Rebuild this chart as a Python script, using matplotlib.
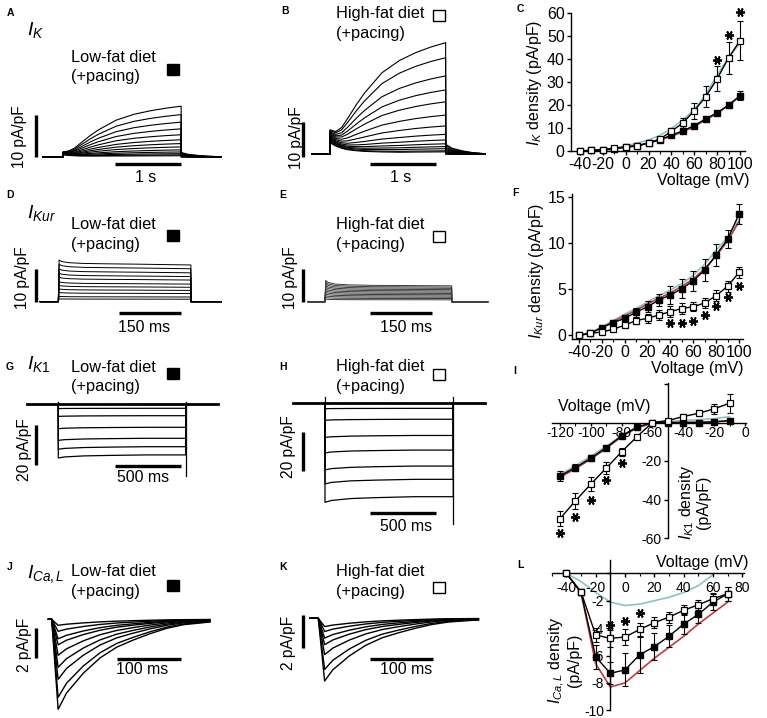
import matplotlib
matplotlib.use('Agg')
import matplotlib.pyplot as plt
from matplotlib.patches import Rectangle
from matplotlib.ticker import MultipleLocator

plt.rcParams['font.family'] = ['Liberation Sans', 'DejaVu Sans']
plt.rcParams['mathtext.fontset'] = 'custom'
plt.rcParams['mathtext.rm'] = 'Liberation Sans'
plt.rcParams['mathtext.it'] = 'Liberation Sans:italic'
plt.rcParams['mathtext.bf'] = 'Liberation Sans:bold'
plt.rcParams['axes.unicode_minus'] = False

W, H = 767, 718
CYAN = '#86c4ca'
RED = '#c23b3b'

# ---------------- current traces (pA/pF) ----------------
# I_K: amplitude at end of step, instantaneous jump at onset
ik_frac = [0, 0.05, 0.1, 0.15, 0.23, 0.3, 0.45, 0.6, 0.74, 0.87, 1.0]
ik_shape = [0, 0.05, 0.13, 0.24, 0.4, 0.52, 0.72, 0.84, 0.91, 0.96, 1.0]
ik_fade = [1, 0.7, 0.5, 0.35, 0.22, 0.14, 0.05, 0, 0, 0, 0]
ik_tail_t = [0, 0.1, 0.25, 0.4, 0.6]
ik_tail = [1.0, 0.6, 0.35, 0.18, 0.06]
ik_tail_ratio = 0.09
A_amp = [12.1, 10.1, 8.3, 6.7, 5.3, 4.1, 3.2, 2.4, 1.7, 1.2, 0.8, 0.5, 0.3]
A_onset = [1.2, 1.2, 1.1, 1.1, 1.0, 1.0, 0.9, 0.9, 0.8, 0.8, 0.7, 0.6, 0.5]
B_amp = [31.9, 27.6, 22.4, 18.4, 15.0, 11.2, 8.1, 5.7, 4.1, 3.0, 2.2, 1.6, 1.0, 0.7]
B_onset = [7.0, 6.8, 6.5, 6.2, 6.0, 5.7, 5.4, 5.1, 4.8, 4.5, 4.2, 3.9, 3.6, 3.3]

# I_Kur
kur_frac = [0, 0.006, 0.025, 0.08, 0.19, 0.37, 0.62, 0.81, 1.0]
D_shape = [0, 1.09, 1.05, 1.02, 1.0, 0.99, 0.98, 0.97, 0.96]
E_shape = [0, 1.3, 1.18, 1.08, 1.03, 1.0, 0.99, 0.98, 0.97]
D_amp = [11.7, 10.5, 9.2, 8.0, 6.9, 5.6, 4.6, 3.6, 2.6, 1.5, 0.8]
E_amp = [5.0, 4.6, 4.2, 3.8, 3.4, 3.0, 2.6, 2.2, 1.8, 1.4, 1.0, 0.6]

# I_K1
k1_frac = [0, 0.05, 0.2, 0.4, 0.7, 1.0]
k1_shape = [1.06, 1.04, 1.02, 1.01, 1.0, 1.0]
G_amp = [-2.0, -5.7, -11.5, -17.0, -21.2, -25.3]
H_amp = [-2.9, -8.5, -16.8, -24.3, -32.5, -39.3, -48.2]

# I_Ca,L (time in ms from step onset)
ica_t = [0, 10, 23, 49, 75, 101, 127, 153, 179, 205, 246]
ica_shape = [0, 1.0, 0.82, 0.6, 0.43, 0.31, 0.23, 0.16, 0.10, 0.06, 0.03]
J_amp = [-6.0, -5.2, -4.0, -3.2, -2.4, -1.7, -1.3, -0.8, -0.4]
K_amp = [-3.8, -3.1, -2.2, -1.6, -1.2, -0.8, -0.5]

# ---------------- I-V data ----------------
V_ik = [-40, -30, -20, -10, 0, 10, 20, 30, 40, 50, 60, 70, 80, 90, 100]
ik_lf = [0, 0.3, 0.5, 1.0, 1.8, 2.2, 3.5, 5.0, 6.8, 8.8, 11.0, 14.0, 16.6, 20.0, 24.0]
ik_lf_err = [0.2, 0.2, 0.3, 0.3, 0.4, 0.4, 0.5, 0.6, 0.8, 1.0, 1.0, 1.0, 1.0, 1.2, 2.0]
ik_hf = [0, 0.3, 0.6, 1.2, 1.8, 2.3, 3.5, 5.2, 8.6, 12.2, 17.5, 23.6, 31.4, 40.5, 48.0]
ik_hf_err = [0.2, 0.2, 0.3, 0.4, 0.5, 0.5, 0.6, 0.8, 1.5, 2.0, 3.5, 4.5, 5.5, 7.0, 8.5]
ik_cyan = [0, 0.2, 0.6, 1.2, 2.2, 3.4, 4.8, 6.8, 9.8, 13.5, 18.0, 24.5, 33.0, 40.5, 47.0]
ik_red = [0, 0.2, 0.4, 0.9, 1.6, 2.2, 3.4, 4.9, 6.4, 8.4, 10.6, 13.6, 16.4, 19.8, 23.8]
ik_star_v = [80, 90, 100]
ik_star_y = [39.5, 50.5, 60.5]

kur_lf = [0, 0.2, 0.83, 1.37, 1.84, 2.5, 3.1, 3.82, 4.36, 5.05, 5.9, 7.07, 8.7, 10.4, 13.1]
kur_lf_err = [0.1, 0.1, 0.2, 0.3, 0.4, 0.5, 0.6, 0.7, 1.0, 1.0, 1.1, 1.2, 1.2, 1.0, 1.1]
kur_hf = [0, 0.2, 0.36, 0.65, 1.1, 1.6, 1.84, 2.2, 2.56, 2.9, 3.1, 3.5, 4.3, 5.3, 6.8]
kur_hf_err = [0.1, 0.1, 0.2, 0.2, 0.3, 0.4, 0.5, 0.5, 0.6, 0.6, 0.5, 0.5, 0.6, 0.6, 0.6]
kur_cyan = [0, 0.3, 0.9, 1.6, 2.3, 2.9, 3.6, 4.3, 4.9, 5.6, 6.5, 7.7, 9.2, 10.6, 12.5]
kur_red = [0, 0.25, 0.85, 1.5, 2.1, 2.7, 3.4, 4.0, 4.6, 5.3, 6.1, 7.2, 8.6, 10.2, 12.3]
kur_star_v = [40, 50, 60, 70, 80, 90, 100]
kur_star_y = [1.3, 1.3, 1.6, 2.2, 3.2, 4.1, 5.3]

V_k1 = [-120, -110, -100, -90, -80, -70, -60, -50, -40, -30, -20, -10]
k1_lf = [-27.7, -23.4, -18.5, -13.0, -6.9, -2.4, 0, 0, 0, 0, 0.3, 1.0]
k1_lf_err = [2.5, 2.0, 1.5, 1.0, 0.8, 0.5, 0.3, 0.3, 0.3, 0.3, 0.3, 0.5]
k1_hf = [-50.0, -40.7, -32.0, -23.7, -15.2, -7.3, 0, 1.0, 3.1, 4.8, 7.1, 10.0]
k1_hf_err = [4.0, 4.0, 3.8, 3.2, 2.0, 1.0, 0.5, 0.5, 1.2, 1.5, 2.5, 5.0]
k1_cyan = [-27.0, -22.5, -17.5, -12.3, -6.8, -2.4, -0.4, 0.5, 1.0, 1.5, 2.0, 3.0]
k1_red = [-28.5, -24.0, -19.0, -13.5, -7.3, -2.8, -0.3, 0, 0, 0.2, 0.5, 0.8]
k1_star_v = [-120, -110, -100, -90, -80]
k1_star_y = [-57.5, -49, -40, -30, -21]

V_ca = [-40, -30, -20, -10, 0, 10, 20, 30, 40, 50, 60, 70]
ca_lf = [0, -1.4, -6.1, -7.3, -7.05, -5.95, -5.35, -4.6, -3.7, -3.0, -2.1, -1.5]
ca_lf_err = [0, 0.2, 0.9, 0.8, 1.2, 1.3, 1.0, 0.8, 0.7, 0.6, 0.6, 0.5]
ca_hf = [0, -1.35, -4.5, -4.75, -4.65, -4.1, -3.6, -3.2, -2.7, -2.3, -1.85, -1.5]
ca_hf_err = [0, 0.2, 0.5, 0.6, 0.6, 0.5, 0.4, 0.4, 0.35, 0.35, 0.4, 0.5]
V_ca_cyan = [-40, -30, -20, -10, 0, 10, 20, 30, 40, 50, 60]
ca_cyan = [0, -0.6, -1.4, -2.1, -2.35, -2.25, -2.0, -1.75, -1.4, -0.9, -0.1]
ca_red = [0, -1.4, -6.6, -8.3, -8.0, -7.1, -6.2, -5.4, -4.6, -3.7, -2.9, -2.1]
ca_star_v = [-10, 0, 10]
ca_star_y = [-3.8, -3.5, -2.9]

fig = plt.figure(figsize=(W / 100, H / 100), dpi=100)


def px_axes(x0, y0, sx, sy, xlim, ylim):
    # x0, y0: pixel of data origin; sx, sy: pixels per data unit
    left = x0 + xlim[0] * sx
    right = x0 + xlim[1] * sx
    top = y0 - ylim[1] * sy
    bottom = y0 - ylim[0] * sy
    ax = fig.add_axes([left / W, 1 - bottom / H, (right - left) / W, (bottom - top) / H])
    ax.set_xlim(xlim)
    ax.set_ylim(ylim)
    return ax


def trace_ax(x0, y0, sx, sy, xlim, ylim):
    ax = px_axes(x0, y0, sx, sy, xlim, ylim)
    ax.axis('off')
    return ax


def scale_bars(ax, vx, vy0, vlen, hx0, hlen, hy):
    ax.plot([vx, vx], [vy0, vy0 + vlen], 'k', lw=2.4, solid_capstyle='butt', clip_on=False)
    ax.plot([hx0, hx0 + hlen], [hy, hy], 'k', lw=2.4, solid_capstyle='butt', clip_on=False)


def draw_ik(ax, amps, onsets, step, t_pre):
    for a, o in zip(amps, onsets):
        t = [t_pre, 0] + [f * step for f in ik_frac] + [step + s for s in ik_tail_t]
        y = ([0, 0] + [a * s + o * d for s, d in zip(ik_shape, ik_fade)]
             + [a * ik_tail_ratio * v for v in ik_tail])
        ax.plot(t, y, color='k', lw=0.8, clip_on=False)


def draw_kur(ax, amps, shape, step, t_pre, t_post, color):
    for a in amps:
        t = [t_pre, 0] + [f * step for f in kur_frac] + [step, t_post]
        y = [0, 0] + [a * s for s in shape] + [0, 0]
        ax.plot(t, y, color=color, lw=0.7, clip_on=False)


def draw_k1(ax, amps, step, t_pre, t_post, spike_top, spike_end):
    ax.plot([t_pre, t_post], [0, 0], 'k', lw=2.0, clip_on=False)
    for a in amps:
        t = [0] + [f * step for f in k1_frac] + [step]
        y = [0] + [a * s for s in k1_shape] + [0]
        ax.plot(t, y, 'k', lw=0.9, clip_on=False)
    ax.plot([0, 0], [0, spike_top], 'k', lw=0.9, clip_on=False)
    ax.plot([step, step], [spike_top, spike_end], 'k', lw=0.9, clip_on=False)


def draw_ica(ax, amps, t_pre, t_post):
    for a in amps:
        t = [t_pre] + ica_t + [t_post]
        y = [0] + [a * s for s in ica_shape] + [a * ica_shape[-1]]
        ax.plot(t, y, 'k', lw=1.0, clip_on=False)


# A
ax = trace_ax(63, 157, 66, 4.2, (-0.6, 2.5), (-5, 15))
draw_ik(ax, A_amp, A_onset, 1.79, -0.3)
scale_bars(ax, -0.41, 0, 10, 0.79, 1.0, -1.67)
# B
ax = trace_ax(330, 154.3, 65.7, 3.5, (-0.6, 2.5), (-5, 35))
draw_ik(ax, B_amp, B_onset, 1.76, -0.28)
scale_bars(ax, -0.41, -0.7, 10, 0.61, 1.0, -2.8)
# D
ax = trace_ax(58.3, 301.7, 0.413, 3.27, (-60, 400), (-5, 14))
draw_kur(ax, D_amp, D_shape, 321, -44, 395, 'k')
scale_bars(ax, -54, 0, 10, 147, 150, -3.5)
# E
ax = trace_ax(325, 301.7, 0.4153, 3.27, (-60, 400), (-5, 14))
draw_kur(ax, E_amp, E_shape, 305, -41, 392, '#3a3a3a')
scale_bars(ax, -52, 0, 10, 108, 150, -3.5)
# G
ax = trace_ax(58.3, 404.3, 0.132, 2.0, (-250, 1220), (-40, 5))
draw_k1(ax, G_amp, 965, -240, 1207, 1.3, -36)
scale_bars(ax, -169, -30.3, 20, 430, 500, -30.7)
# H
ax = trace_ax(325, 402.7, 0.1314, 1.95, (-250, 1230), (-65, 5))
draw_k1(ax, H_amp, 976, -241, 1218, 3.0, -62)
scale_bars(ax, -165, -34.9, 20, 342, 500, -56.7)
# J
ax = trace_ax(51.7, 619.3, 0.643, 15, (-30, 250), (-6.5, 0.5))
draw_ica(ax, J_amp, -5, 246)
scale_bars(ax, -24, -2.6, 2, 101, 100, -2.67)
# K
ax = trace_ax(318.3, 618.3, 0.633, 16.5, (-30, 260), (-4.2, 0.5))
draw_ica(ax, K_amp, -13, 253)
scale_bars(ax, -24, -1.82, 2, 81.6, 100, -2.48)


# ---------------- I-V panels ----------------
def style_iv(ax, size):
    for s in ('top', 'right'):
        ax.spines[s].set_visible(False)
    for s in ('left', 'bottom'):
        ax.spines[s].set_linewidth(1.0)
    ax.tick_params(which='major', direction='out', length=3, width=1.0, labelsize=size, pad=1.5)
    ax.tick_params(which='minor', direction='out', length=2, width=0.8)


def draw_iv(ax, v, lf, lf_err, hf, hf_err, cyan_v, cyan, red, star_v, star_y):
    ax.plot(cyan_v, cyan, color=CYAN, lw=1.2, zorder=1, clip_on=False)
    ax.plot(v, red, color=RED, lw=1.2, zorder=1.5, clip_on=False)
    for m, e in ((lf, lf_err), (hf, hf_err)):
        eb = ax.errorbar(v, m, yerr=e, fmt='none', ecolor='k', elinewidth=0.8,
                         capsize=2, capthick=0.8, zorder=2)
        for art in list(eb.lines[1]) + list(eb.lines[2]):
            art.set_clip_on(False)
    ax.plot(v, lf, '-', color='k', marker='s', ms=5, mfc='k', mec='k', lw=1, zorder=3, clip_on=False)
    ax.plot(v, hf, '-', color='k', marker='s', ms=5, mfc='w', mec='k', mew=0.9, lw=1,
            zorder=4, clip_on=False)
    ax.plot(star_v, star_y, ls='none', marker=(6, 2, 90), ms=6.5, mew=1.3, color='k',
            zorder=5, clip_on=False)


# C
ax = px_axes(625.7, 151, 1.143, 2.3, (-47.9, 104), (0, 60))
style_iv(ax, 11.5)
draw_iv(ax, V_ik, ik_lf, ik_lf_err, ik_hf, ik_hf_err, V_ik, ik_cyan, ik_red, ik_star_v, ik_star_y)
ax.set_xticks([-40, -20, 0, 20, 40, 60, 80, 100])
ax.xaxis.set_minor_locator(MultipleLocator(10))
ax.set_yticks([0, 10, 20, 30, 40, 50, 60])

# F
ax = px_axes(624.7, 335.3, 1.143, 9.24, (-46.1, 103.5), (-0.4, 15.3))
style_iv(ax, 11.5)
draw_iv(ax, V_ik, kur_lf, kur_lf_err, kur_hf, kur_hf_err, V_ik, kur_cyan, kur_red,
        kur_star_v, kur_star_y)
ax.set_xticks([-40, -20, 0, 20, 40, 60, 80, 100])
ax.xaxis.set_minor_locator(MultipleLocator(10))
ax.set_yticks([0, 5, 10, 15])

# I
ax = px_axes(745, 422.5, 1.5417, 1.925, (-125, 0.5), (-60, 20.5))
style_iv(ax, 10)
ax.spines['left'].set_position(('data', -50))
ax.spines['bottom'].set_position(('data', 0))
draw_iv(ax, V_k1, k1_lf, k1_lf_err, k1_hf, k1_hf_err, V_k1, k1_cyan, k1_red, k1_star_v, k1_star_y)
ax.set_xticks([-120, -100, -80, -60, -40, -20, 0])
ax.xaxis.set_minor_locator(MultipleLocator(10))
ax.tick_params(axis='x', which='major', length=2, pad=0.5)
ax.set_yticks([-60, -40, -20, 0, 20])
ax.set_yticklabels(['-60', '-40', '-20', '', ''])

# L
ax = px_axes(625, 573.3, 1.467, 13.7, (-50, 81), (-10, 0.95))
style_iv(ax, 10)
ax.spines['left'].set_position(('data', -10))
ax.spines['bottom'].set_position(('data', 0))
draw_iv(ax, V_ca, ca_lf, ca_lf_err, ca_hf, ca_hf_err, V_ca_cyan, ca_cyan, ca_red, ca_star_v, ca_star_y)
ax.set_xticks([-40, -20, 0, 20, 40, 60, 80])
ax.xaxis.set_minor_locator(MultipleLocator(10))
ax.tick_params(axis='x', which='major', pad=2.5)
ax.set_yticks([-10, -8, -6, -4, -2, 0])
ax.set_yticklabels(['-10', '-8', '-6', '-4', '-2', ''])

# ---------------- overlay text (pixel coordinates) ----------------
ov = fig.add_axes([0, 0, 1, 1], zorder=10)
ov.set_xlim(0, W)
ov.set_ylim(H, 0)
ov.axis('off')


def put(x, y, s, size=11.5, ha='center', va='center', **kw):
    ov.text(x, y, s, fontsize=size, ha=ha, va=va, **kw)


for letter, x, y in [('A', 10, 12.7), ('B', 285, 10.7), ('C', 520, 9.5), ('D', 10, 195),
                     ('E', 283, 195), ('F', 515, 193.3), ('G', 10, 367), ('H', 283, 367),
                     ('I', 515, 370.7), ('J', 10, 567), ('K', 283, 567), ('L', 520, 565)]:
    put(x, y, letter, size=7.5, weight='bold')

for s, y in [(r'$I_K$', 35), (r'$I_{Kur}$', 218.3), (r'$I_{K1}$', 368.5), (r'$I_{Ca,L}$', 578.3)]:
    put(27, y, s, size=14, ha='left', va='baseline')

diet = [(70.7, 57, 77, 'Low-fat diet', 173, 69.5, 'k'),
        (336, 13.3, 33.3, 'High-fat diet', 439, 15.3, 'w'),
        (70.7, 224.5, 244, 'Low-fat diet', 173, 235, 'k'),
        (336, 224.5, 244, 'High-fat diet', 439, 236, 'w'),
        (70.7, 367, 387, 'Low-fat diet', 173, 373, 'k'),
        (336, 367, 387, 'High-fat diet', 439, 374, 'w'),
        (70.7, 571.7, 591.7, 'Low-fat diet', 173, 585, 'k'),
        (336, 571.7, 591.7, 'High-fat diet', 439, 587, 'w')]
for x, y1, y2, s, bx, by, fc in diet:
    put(x, y1, s, size=11.8, ha='left')
    put(x, y2, '(+pacing)', size=11.8, ha='left')
    ov.add_patch(Rectangle((bx - 6.3, by - 5.5), 12.7, 11, facecolor=fc, edgecolor='k', lw=1))

for s, x, y in [('10 pA/pF', 19.5, 136.7), ('10 pA/pF', 297, 137.5), ('10 pA/pF', 22.5, 277.5),
                ('10 pA/pF', 291, 277.5), ('20 pA/pF', 25, 450), ('20 pA/pF', 289, 446.7),
                ('2 pA/pF', 24, 645), ('2 pA/pF', 289, 643)]:
    put(x, y, s, size=11.2, rotation=90)

for s, x, y in [('1 s', 146, 177), ('1 s', 401, 177), ('150 ms', 144, 327.5),
                ('150 ms', 406, 327.5), ('500 ms', 143, 477.5), ('500 ms', 406, 526.7),
                ('100 ms', 142.5, 669), ('100 ms', 406, 669)]:
    put(x, y, s, size=11.4)

for x, y in [(703, 180), (697.5, 369), (604, 406), (702.5, 562)]:
    put(x, y, 'Voltage (mV)', size=11.5)

put(535, 83, r'$I_K$ density (pA/pF)', rotation=90)
put(537, 271, r'$I_{Kur}$ density (pA/pF)', rotation=90)
put(694, 502, r'$I_{K1}$ density' + '\n(pA/pF)', rotation=90, linespacing=1.0)
put(564.5, 660.5, r'$I_{Ca,L}$ density' + '\n(pA/pF)', rotation=90, linespacing=1.0)

fig.savefig('out.png', dpi=100)
